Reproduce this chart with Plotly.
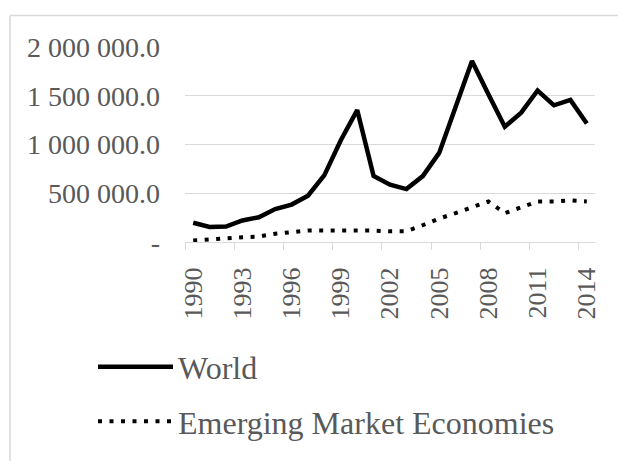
import plotly.graph_objects as go

years = list(range(1990, 2015))
world = [198000, 155000, 158000, 221000, 254000, 338000, 384000, 475000, 686000, 1044000,
         1353000, 676000, 588000, 543000, 676000, 914000, 1385000, 1857000, 1515000, 1183000,
         1327000, 1554000, 1402000, 1457000, 1216000]
emerging = [15000, 28000, 38000, 49000, 56000, 85000, 101000, 117000, 117000, 117000,
            124000, 117000, 110000, 110000, 172000, 241000, 296000, 351000, 416000, 296000,
            351000, 416000, 416000, 426000, 416000]
y_tickvals = [0, 500000, 1000000, 1500000, 2000000]
y_ticktext = ["-", "500 000.0", "1 000 000.0", "1 500 000.0", "2 000 000.0"]
x_tickvals = list(range(1990, 2015, 3))
x_ticktext = [str(v) for v in x_tickvals]

W, H = 618, 461
L, R, T, B = 185, 595, 47, 252
pw, ph = R - L, B - T
def px(x):
    return (x - L) / pw
def py(y):
    return (B - y) / ph

FONT = "Liberation Serif"
GREY = "#595959"
GRID = "#d9d9d9"

fig = go.Figure()
fig.add_trace(go.Scatter(x=years, y=world, mode="lines", name="World",
                         line=dict(color="black", width=4.5), legendgroup="a"))
fig.add_trace(go.Scatter(x=years, y=emerging, mode="lines", name="Emerging Market Economies",
                         line=dict(color="black", width=4, dash="4px,7.5px"), legendgroup="b"))

fig.update_layout(
    width=W, height=H,
    margin=dict(l=L, r=W - R, t=T, b=H - B),
    paper_bgcolor="white", plot_bgcolor="white",
    font=dict(family=FONT, color=GREY),
    showlegend=True,
    legend=dict(x=px(93), y=0, xanchor="left", yanchor="bottom",
                font=dict(size=32, family=FONT, color=GREY),
                tracegroupgap=10, itemwidth=75, bgcolor="rgba(0,0,0,0)"),
    xaxis=dict(range=[1989.5, 2014.5], tickmode="array", tickvals=x_tickvals, ticktext=x_ticktext,
               tickangle=-90, tickfont=dict(size=26, family=FONT, color=GREY),
               showgrid=False, zeroline=False, showline=True, linecolor=GRID, linewidth=1,
               ticks="outside", ticklen=7, tickcolor="rgba(0,0,0,0)", ticklabelstandoff=7,
               minor=dict(tick0=1989.5, dtick=3, ticks="outside", ticklen=7, tickcolor=GRID,
                          tickwidth=1, showgrid=False)),
    yaxis=dict(range=[0, 2000000], tickmode="array", tickvals=y_tickvals, ticktext=y_ticktext,
               tickfont=dict(size=28, family=FONT, color=GREY),
               showgrid=True, gridcolor=GRID, gridwidth=1, zeroline=False, showline=False,
               ticks="", ticklabelstandoff=24),
    shapes=[
        dict(type="line", xref="paper", yref="paper", x0=px(10), x1=px(700), y0=py(14), y1=py(14),
             line=dict(color=GRID, width=1.5), layer="below"),
        dict(type="line", xref="paper", yref="paper", x0=px(10), x1=px(10), y0=py(14), y1=py(600),
             line=dict(color=GRID, width=1.5), layer="below"),
    ],
)
fig.update_layout(legend=dict(y=py(470), yanchor="bottom"))

fig.write_html("out.html", config={"displayModeBar": False},
               post_script="document.body.style.margin='0';document.body.style.overflow='hidden';")
